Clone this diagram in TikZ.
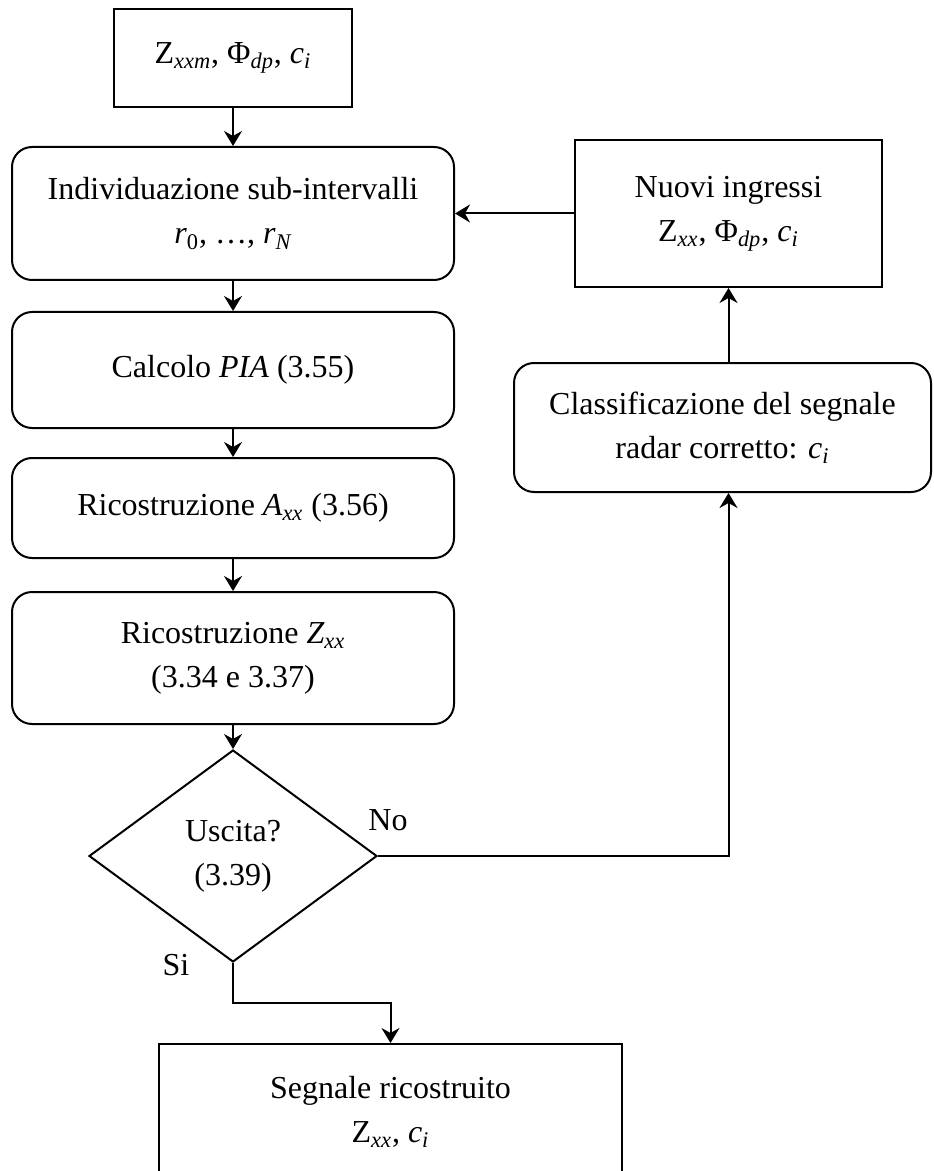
\documentclass[tikz,border=0pt]{standalone}
\usepackage{fontspec}
\setmainfont{Liberation Serif}
\usetikzlibrary{shapes.geometric,arrows.meta}
\begin{document}
\begin{tikzpicture}[x=0.5pt,y=-0.5pt,
  every node/.style={font=\fontsize{16}{22}\selectfont, align=center, inner sep=0pt},
  box/.style={draw, line width=1pt, rectangle},
  rbox/.style={box, rounded corners=10pt},
  decision/.style={draw, line width=1pt, diamond},
  link/.style={line width=1pt, -{Stealth[length=7.5pt,width=9pt,inset=2.5pt]}},
  wire/.style={line width=1pt}]
\useasboundingbox (0,0) rectangle (933,1171);
\clip (0,0) rectangle (933,1171);

% main column
\node[box, minimum width=119pt, minimum height=49pt] (inp) at (233,58)
  {Z\textsubscript{\textit{xxm}}, Φ\textsubscript{\textit{dp}}, \textit{c\textsubscript{i}}};
\node[rbox, minimum width=221pt, minimum height=66.5pt] (ind) at (233,213.5)
  {Individuazione sub-intervalli\\\textit{r}\textsubscript{0}, …, \textit{r\textsubscript{N}}};
\node[rbox, minimum width=221pt, minimum height=58pt] (pia) at (233,370)
  {Calcolo \textit{PIA} (3.55)};
\node[rbox, minimum width=221pt, minimum height=50pt] (axx) at (233,508)
  {Ricostruzione \textit{A\textsubscript{xx}} (3.56)};
\node[rbox, minimum width=221pt, minimum height=66pt] (zxx) at (233,658)
  {Ricostruzione \textit{Z\textsubscript{xx}}\\(3.34 e 3.37)};
\node[decision, aspect=1.358, minimum width=144pt, minimum height=106pt] (dia) at (233,856)
  {Uscita?\\(3.39)};
\node[box, minimum width=231.5pt, minimum height=68pt] (out) at (390.5,1112)
  {Segnale ricostruito\\Z\textsubscript{\textit{xx}}, \textit{c\textsubscript{i}}};

% feedback branch
\node[box, minimum width=153.5pt, minimum height=73.5pt] (new) at (728.5,213.5)
  {Nuovi ingressi\\Z\textsubscript{\textit{xx}}, Φ\textsubscript{\textit{dp}}, \textit{c\textsubscript{i}}};
\node[rbox, minimum width=208.5pt, minimum height=64.5pt] (cls) at (722.5,427.5)
  {Classificazione del segnale\\radar corretto: \textit{c\textsubscript{i}}};

% branch labels
\node (no) at (388,820) {No};
\node (si) at (176,965) {Si};

\coordinate (turn) at (233,1003);

% connectors
\draw[link] (inp.south) -- (ind.north);
\draw[link] (ind.south) -- (pia.north);
\draw[link] (pia.south) -- (axx.north);
\draw[link] (axx.south) -- (zxx.north);
\draw[link] (zxx.south) -- (dia.north);
\draw[link] (dia.south) -- (turn) -| (out.north);
\draw[link] (dia.east) -| (cls.south -| new.south);
\draw[link] (cls.north -| new.south) -- (new.south);
\draw[link] (new.west) -- (new.west -| ind.east);
\end{tikzpicture}
\end{document}
